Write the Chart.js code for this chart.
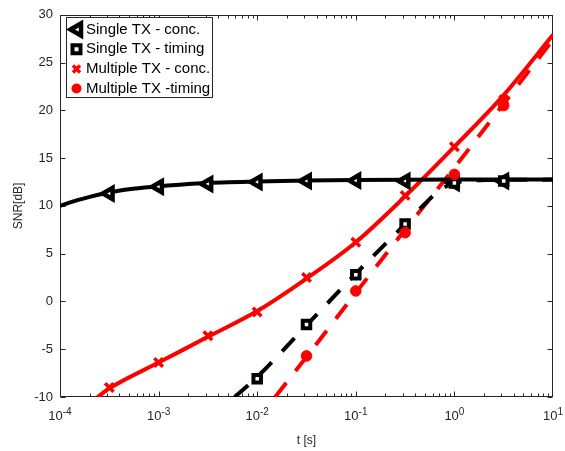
<!DOCTYPE html>
<html><head><meta charset="utf-8">
<script src="https://cdn.jsdelivr.net/npm/chart.js@4/dist/chart.umd.min.js"></script>
<style>html,body{margin:0;padding:0;background:#fff}#c{display:block}</style>
</head><body>
<canvas id="c" width="565" height="451"></canvas>
<script>
// ---- data ----
const markerT = [3.162e-4, 1e-3, 3.162e-3, 1e-2, 3.162e-2, 1e-1, 3.162e-1, 1, 3.162];
const singleConcMarkers = [11.3, 12.0, 12.3, 12.5, 12.6, 12.65, 12.6, 12.4, 12.6];
const singleTimingT = [1e-2, 3.162e-2, 1e-1, 3.162e-1, 1, 3.162];
const singleTimingMarkers = [-8.1, -2.4, 2.8, 8.1, 12.4, 12.6];
const multiConcMarkers = [-9.0, -6.4, -3.6, -1.1, 2.5, 6.2, 11.1, 16.2, 21.1];
const multiTimingT = [3.162e-2, 1e-1, 3.162e-1, 1, 3.162];
const multiTimingMarkers = [-5.7, 1.1, 7.2, 13.3, 20.5];

const singleConcLineT = [1e-4, 1.5e-4, 2e-4, 3.162e-4, 5e-4, 1e-3, 2e-3, 3.162e-3, 1e-2, 3.162e-2, 1e-1, 1, 10];
const singleConcLine = [10.0, 10.6, 10.95, 11.4, 11.75, 12.05, 12.3, 12.4, 12.55, 12.65, 12.7, 12.75, 12.75];
const singleTimingLineT = [5.9e-3, 1e-2, 3.162e-2, 1e-1, 3.162e-1, 0.5, 0.7, 1, 1.5, 2, 10];
const singleTimingLine = [-10, -7.9, -2.5, 2.9, 8.1, 10.2, 11.6, 12.4, 12.65, 12.7, 12.75];
const multiConcLineT = [2.4e-4, 3.162e-4, 1e-3, 3.162e-3, 1e-2, 3.162e-2, 1e-1, 3.162e-1, 1, 3.162, 10];
const multiConcLine = [-10, -9.1, -6.4, -3.7, -1.0, 2.4, 6.2, 11.0, 16.2, 21.6, 27.9];
const multiTimingLineT = [1.52e-2, 3.162e-2, 1e-1, 3.162e-1, 1, 3.162, 10];
const multiTimingLine = [-10, -5.8, 0.9, 7.5, 14.0, 20.7, 27.4];

const xTickExps = [-4, -3, -2, -1, 0, 1];
const yTicks = [-10, -5, 0, 5, 10, 15, 20, 25, 30];
const legendLabels = ['Single TX - conc.', 'Single TX - timing', 'Multiple TX - conc.', 'Multiple TX -timing'];

const FONT = '"Liberation Sans", Arial, Helvetica, sans-serif';
const AX = '#262626';
const RED = '#ff0000';
const BLK = '#000000';

const pts = (xs, ys) => xs.map((x, i) => ({x: x, y: ys[i]}));

function lineDs(xs, ys, color, dashed) {
  return {data: pts(xs, ys), showLine: true, borderColor: color, borderWidth: 4,
    borderDash: dashed ? [18, 15] : [], pointRadius: 0, cubicInterpolationMode: 'monotone',
    fill: false, order: 10};
}
function markDs(xs, ys, opt) {
  return Object.assign({data: pts(xs, ys), showLine: false, order: 1}, opt);
}

const datasets = [
  lineDs(singleConcLineT, singleConcLine, BLK, false),
  lineDs(singleTimingLineT, singleTimingLine, BLK, true),
  lineDs(multiConcLineT, multiConcLine, RED, false),
  lineDs(multiTimingLineT, multiTimingLine, RED, true),
  markDs(multiTimingT, multiTimingMarkers, {pointStyle: 'circle', pointRadius: 5.3, pointBackgroundColor: RED, pointBorderColor: RED, pointBorderWidth: 1}),
  markDs(markerT, multiConcMarkers, {pointStyle: 'crossRot', pointRadius: 6, pointBorderColor: RED, pointBorderWidth: 3.5}),
  markDs(singleTimingT, singleTimingMarkers, {pointStyle: 'rect', pointRadius: 5.3, pointBackgroundColor: '#fff', pointBorderColor: BLK, pointBorderWidth: 4}),
  markDs(markerT, singleConcMarkers, {pointStyle: 'triangle', pointRotation: -90, pointRadius: 6.5, pointBackgroundColor: '#fff', pointBorderColor: BLK, pointBorderWidth: 4.5}),
];

const axesPlugin = {
  id: 'axesBox',
  beforeDatasetsDraw(chart) {
    const {ctx, chartArea: a, scales: {x, y}} = chart;
    ctx.save();
    ctx.strokeStyle = AX; ctx.lineWidth = 1;
    const L = Math.round(a.left) + 0.5, R = Math.round(a.right) - 0.5, T = Math.round(a.top) + 0.5, B = Math.round(a.bottom) - 0.5;
    ctx.strokeRect(L, T, R - L, B - T);
    ctx.beginPath();
    for (let e = -4; e <= 0; e++) {
      for (let m = 1; m <= 9; m++) {
        const px = Math.round(x.getPixelForValue(m * Math.pow(10, e))) + 0.5;
        const len = m === 1 ? 5 : 3;
        ctx.moveTo(px, B); ctx.lineTo(px, B - len);
        ctx.moveTo(px, T); ctx.lineTo(px, T + len);
      }
    }
    yTicks.forEach(v => {
      const py = Math.round(y.getPixelForValue(v)) + 0.5;
      ctx.moveTo(L, py); ctx.lineTo(L + 5, py);
      ctx.moveTo(R, py); ctx.lineTo(R - 5, py);
    });
    ctx.stroke();
    ctx.restore();
  },
  afterDraw(chart) {
    const {ctx, scales: {x}} = chart;
    ctx.save();
    ctx.fillStyle = AX; ctx.textAlign = 'left'; ctx.textBaseline = 'alphabetic';
    xTickExps.forEach(e => {
      const px = x.getPixelForValue(Math.pow(10, e));
      ctx.font = '13px ' + FONT;
      const w1 = ctx.measureText('10').width;
      ctx.font = '10px ' + FONT;
      const ex = String(e);
      const w2 = ctx.measureText(ex).width;
      const start = px - (w1 + w2) / 2;
      ctx.font = '13px ' + FONT;
      ctx.fillText('10', start, 420);
      ctx.font = '10px ' + FONT;
      ctx.fillText(ex, start + w1, 414.5);
    });
    ctx.restore();
  }
};

const legendPlugin = {
  id: 'boxLegend',
  afterDatasetsDraw(chart) {
    const ctx = chart.ctx;
    ctx.save();
    ctx.fillStyle = '#fff'; ctx.strokeStyle = AX; ctx.lineWidth = 1;
    ctx.fillRect(66.5, 17.5, 146, 80);
    ctx.strokeRect(66.5, 17.5, 146, 80);
    const ys = [29.5, 49.3, 69, 88.5];
    const mx = 76.5;
    // triangle (left)
    ctx.beginPath();
    const r = 7;
    ctx.moveTo(mx - r + 1, ys[0]);
    ctx.lineTo(mx + 1 + r / 2, ys[0] - r * Math.sqrt(3) / 2);
    ctx.lineTo(mx + 1 + r / 2, ys[0] + r * Math.sqrt(3) / 2);
    ctx.closePath();
    ctx.fillStyle = '#fff'; ctx.fill();
    ctx.strokeStyle = BLK; ctx.lineWidth = 4.5; ctx.lineJoin = 'miter'; ctx.stroke();
    // square
    ctx.beginPath();
    ctx.rect(mx - 4, ys[1] - 4, 8, 8);
    ctx.fillStyle = '#fff'; ctx.fill();
    ctx.lineWidth = 4; ctx.strokeStyle = BLK; ctx.stroke();
    // X
    ctx.beginPath();
    const d = 3.5;
    ctx.moveTo(mx - d, ys[2] - d); ctx.lineTo(mx + d, ys[2] + d);
    ctx.moveTo(mx + d, ys[2] - d); ctx.lineTo(mx - d, ys[2] + d);
    ctx.strokeStyle = RED; ctx.lineWidth = 3.5; ctx.lineCap = 'butt'; ctx.stroke();
    // circle
    ctx.beginPath();
    ctx.arc(mx, ys[3], 5, 0, Math.PI * 2);
    ctx.fillStyle = RED; ctx.fill();
    // labels
    ctx.fillStyle = BLK; ctx.font = '15px ' + FONT; ctx.textAlign = 'left'; ctx.textBaseline = 'middle';
    legendLabels.forEach((t, i) => ctx.fillText(t, 86, ys[i]));
    ctx.restore();
  }
};

new Chart(document.getElementById('c'), {
  type: 'scatter',
  data: {datasets: datasets},
  options: {
    responsive: false, animation: false, devicePixelRatio: 1,
    layout: {padding: {top: 8, right: 12, left: 0, bottom: 0}},
    plugins: {legend: {display: false}, tooltip: {enabled: false}},
    scales: {
      x: {
        type: 'logarithmic', min: 1e-4, max: 10,
        grid: {display: false, drawTicks: false}, border: {display: false},
        ticks: {display: false},
        title: {display: true, text: 't [s]', color: AX, font: {family: FONT, size: 12}, padding: {top: 0, bottom: 3}},
        afterFit: s => { s.height = 54; }
      },
      y: {
        min: -10, max: 30,
        grid: {display: false, drawTicks: false}, border: {display: false},
        ticks: {stepSize: 5, color: AX, font: {family: FONT, size: 13}, padding: 7},
        afterBuildTicks: s => { s.ticks = yTicks.map(v => ({value: v})); },
        title: {display: true, text: 'SNR[dB]', color: AX, font: {family: FONT, size: 12}, padding: {top: 11, bottom: 0}},
        afterFit: s => { s.width = 60; }
      }
    }
  },
  plugins: [axesPlugin, legendPlugin]
});
</script>
</body></html>
